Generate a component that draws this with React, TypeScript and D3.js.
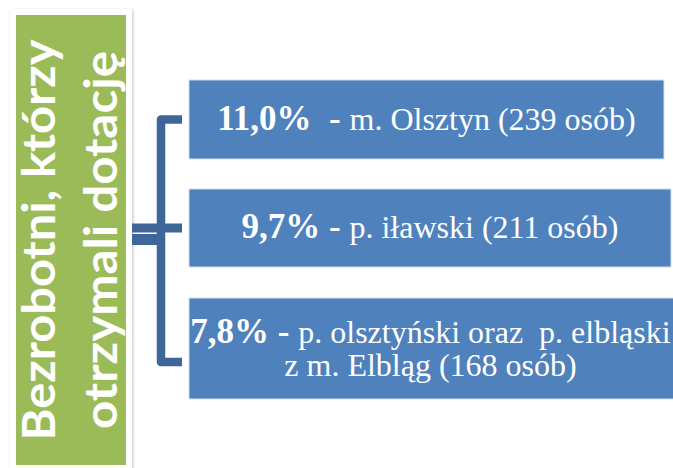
import React from "react";
import * as d3 from "d3";

const titleLines = ["Bezrobotni, którzy", "otrzymali dotację"];
const percents = ["11,0%", "9,7%", "7,8%"];
const gaps = ["  - ", " - ", " - "];
const regionsLine1 = ["m. Olsztyn (239 osób)", "p. iławski (211 osób)", "p. olsztyński oraz  p. elbląski"];
const regionsLine2 = ["", "", "z m. Elbląg (168 osób)"];

const W = 673;
const H = 468;
const BLUE = "#4F81BD";
const DARK = "#3F6698";
const GREEN = "#9BBB59";

const boxes = [
  { x0: 189, x1: 664, y0: 80, y1: 159, base: 130 },
  { x0: 189, x1: 671, y0: 189, y1: 267, base: 238 },
  { x0: 189, x1: 674, y0: 298, y1: 399, base: 343 },
];

export default function App() {
  const bracket = d3.path();
  bracket.moveTo(182, 119.5);
  bracket.lineTo(161, 119.5);
  bracket.lineTo(161, 362);
  bracket.lineTo(182, 362);

  return (
    <svg width={W} height={H} style={{ position: "absolute", left: 0, top: 0, background: "#fff" }}>
      <defs>
        <filter id="sh" x="-10%" y="-5%" width="120%" height="110%">
          <feGaussianBlur in="SourceAlpha" stdDeviation="1.5" />
          <feOffset dx="1" dy="1" result="b" />
          <feComponentTransfer>
            <feFuncA type="linear" slope="0.25" />
          </feComponentTransfer>
          <feMerge>
            <feMergeNode />
            <feMergeNode in="SourceGraphic" />
          </feMerge>
        </filter>
      </defs>
      <rect x={10} y={9} width={122} height={470} fill="#fff" filter="url(#sh)" />
      <rect x={16} y={15} width={110} height={450} fill={GREEN} />
      {titleLines.map((t, i) => (
        <text
          key={i}
          transform={`translate(${i === 0 ? 55 : 117},240) rotate(-90)`}
          textAnchor="middle"
          fontFamily="Lato"
          fontWeight={700}
          fontSize={46}
          fill="#fff"
          textLength={i === 0 ? 401 : 378}
          lengthAdjust="spacingAndGlyphs"
        >
          {t}
        </text>
      ))}

      <path d={bracket.toString()} fill="none" stroke={DARK} strokeWidth={8.5} strokeLinejoin="round" />
      <line x1={132} x2={182} y1={228} y2={228} stroke={DARK} strokeWidth={9} />
      <line x1={132} x2={165} y1={239.5} y2={239.5} stroke={DARK} strokeWidth={11} />

      {boxes.map((b, i) => (
        <g key={i}>
          <rect x={b.x0} y={b.y0} width={b.x1 - b.x0} height={b.y1 - b.y0} fill={BLUE} stroke="#d4def0" strokeWidth={1} />
          <text
            x={(b.x0 + Math.min(b.x1, 672)) / 2}
            y={b.base}
            textAnchor="middle"
            fontFamily="Liberation Serif"
            fill="#fff"
            style={{ whiteSpace: "pre" }}
          >
            <tspan fontWeight={700} fontSize={35}>{percents[i] + gaps[i]}</tspan>
            <tspan fontSize={32}>{regionsLine1[i]}</tspan>
          </text>
          {regionsLine2[i] && (
            <text
              x={(b.x0 + Math.min(b.x1, 672)) / 2}
              y={b.base + 33}
              textAnchor="middle"
              fontFamily="Liberation Serif"
              fontSize={32}
              fill="#fff"
            >
              {regionsLine2[i]}
            </text>
          )}
        </g>
      ))}
    </svg>
  );
}
